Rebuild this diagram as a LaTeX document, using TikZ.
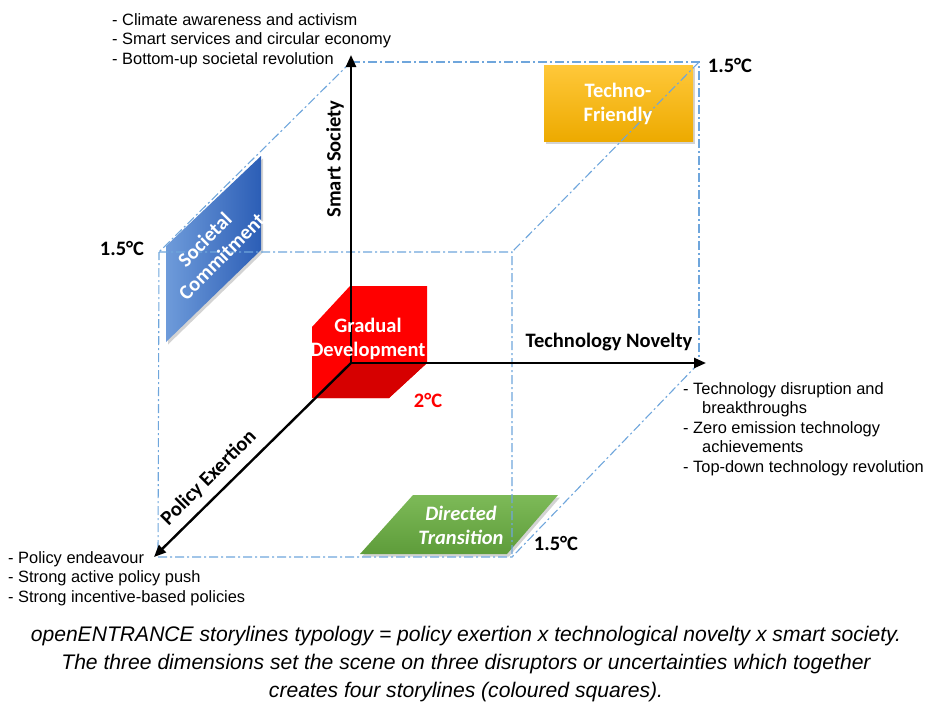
\documentclass[tikz,border=0pt]{standalone}
\usepackage{fontspec}
\setmainfont{Liberation Sans}
\newfontfamily\calfont{Carlito}
\usetikzlibrary{arrows.meta,shadows}
\definecolor{dashblue}{HTML}{6FA6DC}
\definecolor{techtop}{HTML}{FFC83A}
\definecolor{techbot}{HTML}{EDAA00}
\definecolor{socleft}{HTML}{6E9BDA}
\definecolor{socright}{HTML}{2C5EB6}
\definecolor{greentop}{HTML}{7DBA58}
\definecolor{greenbot}{HTML}{5E9C3A}
\definecolor{redmain}{HTML}{FF0000}
\definecolor{reddark}{HTML}{D60000}
\tikzset{
  axisarrow/.style={line width=2.4pt, -{Triangle[length=12pt,width=10pt]}},
  cubeedge/.style={draw=dashblue, line width=1.1pt, dash pattern=on 9pt off 3pt on 2pt off 3pt},
  axislabel/.style={font=\calfont\bfseries\fontsize{20.5}{24}\selectfont, inner sep=0},
  templabel/.style={font=\calfont\bfseries\fontsize{20.5}{24}\selectfont, inner sep=0},
  storytext/.style={font=\calfont\bfseries\fontsize{20.5}{24}\selectfont, text=white, align=center, inner sep=0},
  listtext/.style={font=\fontsize{16.4}{19.6}\selectfont, inner sep=0, anchor=base west},
  captiontext/.style={font=\itshape\fontsize{21.1}{28}\selectfont, inner sep=0, anchor=base},
  storybox/.style={drop shadow={opacity=0.35, shadow xshift=2pt, shadow yshift=-2.5pt}},
}
\begin{document}
\begin{tikzpicture}[x=1pt,y=-1pt]
\useasboundingbox (0,0) rectangle (932,702);
% axis points
\coordinate (O) at (351,363);
\coordinate (Yt) at (351,55);
\coordinate (Xt) at (706,363);
\coordinate (Zt) at (154,557);
% cube corners
\coordinate (B1) at (351,62);
\coordinate (B2) at (699,62);
\coordinate (B3) at (699,363);
\coordinate (F1) at (159,252);
\coordinate (F2) at (512,252);
\coordinate (F3) at (512,557);
\coordinate (F4) at (158,557);
% storyline shapes
\fill[redmain] (350,286) -- (427,286) -- (427,363) -- (389,398) -- (312,398) -- (312,327) -- cycle;
\fill[reddark] (351,363) -- (427,363) -- (389,398) -- (316,398) -- cycle;
\shade[storybox, top color=techtop, bottom color=techbot] (544,65) rectangle (693,141);
\shade[storybox, left color=socleft, right color=socright] (166,246) -- (261,156) -- (261,250) -- (166,342) -- cycle;
\shade[storybox, top color=greentop, bottom color=greenbot] (360,554) -- (507,554) -- (558,495) -- (413,495) -- cycle;
% cube edges
\draw[cubeedge] (B1) -- (B2) -- (B3);
\draw[cubeedge] (B1) -- (F1);
\draw[cubeedge] (B2) -- (F2);
\draw[cubeedge] (B3) -- (F3);
\draw[cubeedge] (F1) -- (F2) -- (F3) -- (F4) -- cycle;
% axes
\draw[axisarrow] (O) -- (Yt);
\draw[axisarrow] (O) -- (Xt);
\draw[axisarrow] (O) -- (Zt);
% axis labels
\node[axislabel, rotate=90] (ss) at (335,159) {Smart Society};
\node[axislabel] (tn) at (609,342) {Technology Novelty};
\node[axislabel, rotate=45] (pe) at (209,478) {Policy Exertion};
% storyline labels
\node[storytext] (tf) at (618,104) {Techno-\\Friendly};
\node[storytext, rotate=45] (sc) at (213,248) {Societal\\Commitment};
\node[storytext] (gd) at (368,339) {Gradual\\Development};
\node[storytext, font=\calfont\bfseries\itshape\fontsize{20.5}{24}\selectfont] (dt) at (461,525) {Directed\\Transition};
% temperatures
\node[templabel] (t1) at (730,65) {1.5°C};
\node[templabel] (t2) at (122,248) {1.5°C};
\node[templabel] (t3) at (556,543) {1.5°C};
\node[templabel, text=redmain] (t4) at (428,400) {2°C};
% lists
\node[listtext] (ltop) at (112,25) {\begin{tabular}[t]{@{}l@{}}- Climate awareness and activism\\- Smart services and circular economy\\- Bottom-up societal revolution\end{tabular}};
\node[listtext] (lright) at (683,394) {\begin{tabular}[t]{@{}l@{}}- Technology disruption and\\\hspace*{19pt}breakthroughs\\- Zero emission technology\\\hspace*{19pt}achievements\\- Top-down technology revolution\end{tabular}};
\node[listtext] (lleft) at (8,563) {\begin{tabular}[t]{@{}l@{}}- Policy endeavour\\- Strong active policy push\\- Strong incentive-based policies\end{tabular}};
% caption
\node[captiontext] (cap) at (466,641) {\begin{tabular}[t]{@{}c@{}}openENTRANCE storylines typology = policy exertion x technological novelty x smart society.\\The three dimensions set the scene on three disruptors or uncertainties which together\\creates four storylines (coloured squares).\end{tabular}};
\end{tikzpicture}
\end{document}
